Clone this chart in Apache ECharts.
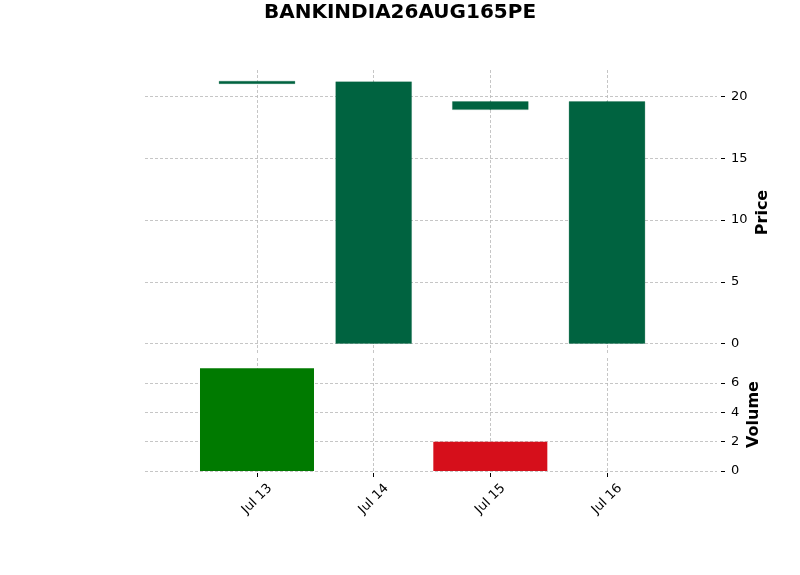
<!DOCTYPE html>
<html>
<head>
<meta charset="utf-8">
<script src="https://cdn.jsdelivr.net/npm/echarts@6/dist/echarts.min.js"></script>
<style>
  html, body { margin: 0; padding: 0; background: #fff; }
  #chart { width: 800px; height: 575px; }
</style>
</head>
<body>
<div id="chart"></div>
<script>
// data
var dates = ['Jul 13', 'Jul 14', 'Jul 15', 'Jul 16'];
var openP = [21.15, 0, 19.6, 0];
var closeP = [21.15, 21.2, 18.95, 19.6];
var lowP = [21.15, 0, 18.95, 0];
var highP = [21.15, 21.2, 19.6, 19.6];
var volume = [7, 0, 2, 0];
var priceTicks = [0, 5, 10, 15, 20];
var volumeTicks = [0, 2, 4, 6];

var candleColor = '#006340';
var upVol = '#007a00';
var downVol = '#d60f1b';
var gridLine = { color: '#b8b8b8', width: 0.8, type: [3, 2] };
var font = 'DejaVu Sans';

var candleData = dates.map(function (d, i) {
  return [i, openP[i], closeP[i], lowP[i], highP[i]];
});
var volData = dates.map(function (d, i) {
  return {
    value: [i, volume[i]],
    itemStyle: { color: closeP[i] >= openP[i] ? upVol : downVol }
  };
});

var chart = echarts.init(document.getElementById('chart'));

function xAxisCfg(gridIndex, showLabels) {
  return {
    type: 'value', gridIndex: gridIndex,
    min: -0.96, max: 3.943,
    offset: showLabels ? 2 : 0,
    axisLine: { show: false, onZero: false },
    axisTick: { show: showLabels, length: 4, lineStyle: { color: '#000' }, customValues: [0, 1, 2, 3] },
    axisLabel: {
      show: showLabels, customValues: [0, 1, 2, 3],
      rotate: 45, align: 'center', verticalAlign: 'middle', margin: 26,
      fontFamily: font, fontSize: 13, color: '#000',
      formatter: function (v) { return dates[Math.round(v)] || ''; }
    },
    splitLine: { show: true, lineStyle: gridLine }
  };
}

function yAxisCfg(gridIndex, name, min, max, ticks, gap) {
  return {
    type: 'value', gridIndex: gridIndex, position: 'right', offset: 4,
    min: min, max: max,
    name: name, nameLocation: 'middle', nameRotate: 90, nameGap: gap,
    nameMoveOverlap: false,
    nameTextStyle: { fontFamily: font, fontSize: 16, fontWeight: 'bold', color: '#000' },
    axisLine: { show: false, onZero: false },
    axisTick: { show: true, length: 4, lineStyle: { color: '#000' }, customValues: ticks },
    axisLabel: { customValues: ticks, margin: 10, fontFamily: font, fontSize: 13, color: '#000' },
    splitLine: { show: true, lineStyle: gridLine }
  };
}

chart.setOption({
  animation: false,
  title: {
    text: 'BANKINDIA26AUG165PE', left: 'center', top: -2,
    textStyle: { fontFamily: font, fontSize: 20, fontWeight: 'bold', color: '#000' }
  },
  grid: [
    { left: 145, right: 83, top: 70, height: 285 },
    { left: 145, right: 83, top: 358, height: 113 }
  ],
  xAxis: [xAxisCfg(0, false), xAxisCfg(1, true)],
  yAxis: [
    yAxisCfg(0, 'Price', -0.93, 22.16, priceTicks, 34),
    yAxisCfg(1, 'Volume', 0, 7.7, volumeTicks, 25)
  ],
  series: [
    {
      type: 'custom', xAxisIndex: 0, yAxisIndex: 0,
      data: candleData,
      encode: { x: 0, y: [1, 2, 3, 4] },
      renderItem: function (params, api) {
        var x = api.value(0), o = api.value(1), c = api.value(2);
        var lo = api.value(3), hi = api.value(4);
        var top = api.coord([x, Math.max(o, c)]);
        var bot = api.coord([x, Math.min(o, c)]);
        var pHi = api.coord([x, hi]);
        var pLo = api.coord([x, lo]);
        var w = api.size([0.65, 0])[0];
        var h = bot[1] - top[1];
        var y0 = top[1];
        if (h < 2.5) { y0 = (top[1] + bot[1]) / 2 - 1.25; h = 2.5; }
        return {
          type: 'group',
          children: [
            { type: 'line', shape: { x1: top[0], y1: pHi[1], x2: top[0], y2: pLo[1] },
              style: { stroke: candleColor, lineWidth: 1 } },
            { type: 'rect', shape: { x: top[0] - w / 2, y: y0, width: w, height: h },
              style: { fill: candleColor, stroke: 'rgba(0,99,64,0.25)', lineWidth: 1 } }
          ]
        };
      }
    },
    {
      type: 'bar', xAxisIndex: 1, yAxisIndex: 1,
      data: volData, barWidth: 114
    }
  ]
});
</script>
</body>
</html>
